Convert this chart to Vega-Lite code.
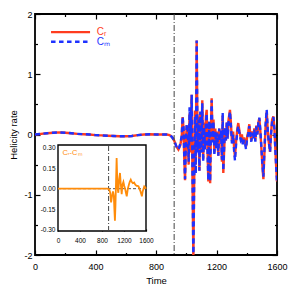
{
  "$schema": "https://vega.github.io/schema/vega-lite/v6.json",
  "width": 242,
  "height": 241,
  "autosize": {"type": "none"},
  "padding": {"left": 35, "top": 14, "right": 14, "bottom": 36},
  "background": "white",
  "config": {
    "view": {"stroke": "#000", "strokeWidth": 1.8},
    "font": "Liberation Sans",
    "axis": {
      "grid": false, "domain": false, "tickColor": "#000", "tickWidth": 1.2,
      "labelColor": "#000", "labelFontSize": 9, "labelFont": "Liberation Sans",
      "titleFont": "Liberation Sans", "titleFontWeight": "normal", "titleFontSize": 9.5, "titleColor": "#000",
      "labelFlush": false, "labelOverlap": false, "labelBound": false
    }
  },
  "datasets": {
    "main": [
      {"t": 0, "cr": 0.0, "cm": 0.0}, {"t": 40, "cr": 0.01, "cm": 0.01}, {"t": 80, "cr": 0.02, "cm": 0.02},
      {"t": 120, "cr": 0.03, "cm": 0.03}, {"t": 160, "cr": 0.035, "cm": 0.035}, {"t": 200, "cr": 0.03, "cm": 0.03},
      {"t": 240, "cr": 0.02, "cm": 0.02}, {"t": 280, "cr": 0.01, "cm": 0.01}, {"t": 320, "cr": 0.005, "cm": 0.005},
      {"t": 360, "cr": 0.0, "cm": 0.0}, {"t": 400, "cr": -0.01, "cm": -0.01}, {"t": 440, "cr": -0.015, "cm": -0.015},
      {"t": 480, "cr": -0.02, "cm": -0.02}, {"t": 520, "cr": -0.025, "cm": -0.025}, {"t": 560, "cr": -0.03, "cm": -0.03},
      {"t": 600, "cr": -0.03, "cm": -0.03}, {"t": 640, "cr": -0.025, "cm": -0.025}, {"t": 680, "cr": -0.01, "cm": -0.01},
      {"t": 720, "cr": 0.0, "cm": 0.0}, {"t": 760, "cr": 0.005, "cm": 0.005}, {"t": 800, "cr": 0.0, "cm": 0.0},
      {"t": 840, "cr": 0.0, "cm": 0.0}, {"t": 870, "cr": 0.0, "cm": 0.0}, {"t": 890, "cr": -0.01, "cm": -0.01},
      {"t": 905, "cr": -0.04, "cm": -0.04}, {"t": 920, "cr": -0.1, "cm": -0.1}, {"t": 935, "cr": -0.2, "cm": -0.2},
      {"t": 948, "cr": -0.25, "cm": -0.25}, {"t": 960, "cr": -0.18, "cm": -0.16}, {"t": 970, "cr": -0.05, "cm": -0.02},
      {"t": 976, "cr": 0.29, "cm": 0.3}, {"t": 982, "cr": 0.1, "cm": 0.12}, {"t": 987, "cr": -0.4, "cm": -0.38},
      {"t": 992, "cr": -0.76, "cm": -0.74}, {"t": 997, "cr": -0.2, "cm": -0.18}, {"t": 1003, "cr": 0.15, "cm": 0.17},
      {"t": 1010, "cr": 0.05, "cm": 0.07}, {"t": 1016, "cr": -0.5, "cm": -0.45}, {"t": 1022, "cr": 0.35, "cm": 0.45},
      {"t": 1028, "cr": -0.3, "cm": -0.12}, {"t": 1036, "cr": 0.66, "cm": 0.66}, {"t": 1042, "cr": -0.9, "cm": -0.8},
      {"t": 1047, "cr": -2.05, "cm": -2.05}, {"t": 1053, "cr": -0.6, "cm": -0.65}, {"t": 1058, "cr": 0.4, "cm": 0.3},
      {"t": 1063, "cr": -0.5, "cm": -0.65}, {"t": 1069, "cr": 1.56, "cm": 1.56}, {"t": 1075, "cr": -0.2, "cm": -0.3},
      {"t": 1081, "cr": 0.3, "cm": 0.25}, {"t": 1087, "cr": -0.6, "cm": -0.6}, {"t": 1093, "cr": 0.35, "cm": 0.38},
      {"t": 1100, "cr": -0.3, "cm": -0.3}, {"t": 1106, "cr": 0.57, "cm": 0.52}, {"t": 1112, "cr": -0.4, "cm": -0.45},
      {"t": 1118, "cr": 0.2, "cm": 0.12}, {"t": 1124, "cr": -0.15, "cm": -0.25}, {"t": 1130, "cr": 0.3, "cm": 0.2},
      {"t": 1135, "cr": 0.41, "cm": 0.35}, {"t": 1140, "cr": -0.2, "cm": -0.22}, {"t": 1146, "cr": -0.78, "cm": -0.76},
      {"t": 1152, "cr": 0.2, "cm": 0.22}, {"t": 1158, "cr": -0.81, "cm": -0.78}, {"t": 1163, "cr": 0.1, "cm": 0.08},
      {"t": 1168, "cr": 0.6, "cm": 0.57}, {"t": 1174, "cr": -0.1, "cm": -0.13}, {"t": 1180, "cr": 0.25, "cm": 0.22},
      {"t": 1186, "cr": -0.3, "cm": -0.35}, {"t": 1192, "cr": 0.1, "cm": 0.05}, {"t": 1198, "cr": -0.2, "cm": -0.23},
      {"t": 1205, "cr": 0.05, "cm": 0.03}, {"t": 1212, "cr": -0.35, "cm": -0.35}, {"t": 1218, "cr": 0.1, "cm": 0.1},
      {"t": 1224, "cr": -0.1, "cm": -0.1}, {"t": 1230, "cr": 0.05, "cm": 0.07}, {"t": 1236, "cr": -0.45, "cm": -0.42},
      {"t": 1241, "cr": 0.32, "cm": 0.36}, {"t": 1245, "cr": -0.64, "cm": -0.6}, {"t": 1250, "cr": -0.3, "cm": -0.25},
      {"t": 1256, "cr": 0.1, "cm": 0.12}, {"t": 1262, "cr": -0.1, "cm": -0.1}, {"t": 1268, "cr": 0.2, "cm": 0.2},
      {"t": 1274, "cr": -0.05, "cm": -0.07}, {"t": 1280, "cr": 0.25, "cm": 0.22}, {"t": 1289, "cr": 0.41, "cm": 0.38},
      {"t": 1295, "cr": 0.2, "cm": 0.16}, {"t": 1302, "cr": -0.1, "cm": -0.15}, {"t": 1310, "cr": 0.05, "cm": 0.0},
      {"t": 1316, "cr": -0.2, "cm": -0.26}, {"t": 1322, "cr": -0.37, "cm": -0.43}, {"t": 1330, "cr": -0.1, "cm": -0.15},
      {"t": 1338, "cr": 0.1, "cm": 0.05}, {"t": 1344, "cr": 0.19, "cm": 0.14}, {"t": 1352, "cr": 0.05, "cm": 0.01},
      {"t": 1360, "cr": -0.05, "cm": -0.09}, {"t": 1368, "cr": 0.0, "cm": -0.04}, {"t": 1375, "cr": -0.15, "cm": -0.19},
      {"t": 1382, "cr": -0.05, "cm": -0.09}, {"t": 1388, "cr": -0.1, "cm": -0.14}, {"t": 1395, "cr": -0.2, "cm": -0.24},
      {"t": 1402, "cr": -0.05, "cm": -0.08}, {"t": 1410, "cr": 0.05, "cm": 0.02}, {"t": 1417, "cr": 0.17, "cm": 0.14},
      {"t": 1424, "cr": 0.0, "cm": -0.02}, {"t": 1430, "cr": -0.1, "cm": -0.12}, {"t": 1437, "cr": 0.05, "cm": 0.03},
      {"t": 1444, "cr": -0.05, "cm": -0.07}, {"t": 1450, "cr": 0.1, "cm": 0.08}, {"t": 1457, "cr": -0.1, "cm": -0.12},
      {"t": 1463, "cr": 0.15, "cm": 0.13}, {"t": 1470, "cr": 0.0, "cm": 0.0}, {"t": 1477, "cr": 0.2, "cm": 0.2},
      {"t": 1483, "cr": 0.27, "cm": 0.28}, {"t": 1490, "cr": 0.05, "cm": 0.07}, {"t": 1496, "cr": -0.2, "cm": -0.18},
      {"t": 1503, "cr": -0.5, "cm": -0.47}, {"t": 1510, "cr": -0.74, "cm": -0.7}, {"t": 1517, "cr": -0.3, "cm": -0.25},
      {"t": 1524, "cr": 0.1, "cm": 0.15}, {"t": 1532, "cr": 0.38, "cm": 0.41}, {"t": 1538, "cr": 0.1, "cm": 0.11},
      {"t": 1544, "cr": -0.1, "cm": -0.09}, {"t": 1550, "cr": -0.2, "cm": -0.2}, {"t": 1554, "cr": -0.29, "cm": -0.29},
      {"t": 1560, "cr": 0.0, "cm": -0.01}, {"t": 1568, "cr": 0.25, "cm": 0.23}, {"t": 1576, "cr": 0.3, "cm": 0.29},
      {"t": 1583, "cr": 0.1, "cm": 0.09}, {"t": 1590, "cr": -0.3, "cm": -0.31}, {"t": 1596, "cr": -0.6, "cm": -0.6},
      {"t": 1600, "cr": -0.78, "cm": -0.78}
    ],
    "diff": [
      {"t": 0, "d": 0}, {"t": 900, "d": 0}, {"t": 930, "d": -0.005}, {"t": 950, "d": -0.03}, {"t": 965, "d": -0.1},
      {"t": 980, "d": -0.06}, {"t": 1000, "d": -0.02}, {"t": 1015, "d": -0.05}, {"t": 1025, "d": -0.15},
      {"t": 1035, "d": -0.235}, {"t": 1045, "d": -0.12}, {"t": 1055, "d": 0.05}, {"t": 1066, "d": 0.225},
      {"t": 1075, "d": 0.1}, {"t": 1085, "d": 0.0}, {"t": 1097, "d": -0.03}, {"t": 1110, "d": 0.06},
      {"t": 1127, "d": 0.115}, {"t": 1140, "d": 0.04}, {"t": 1158, "d": -0.04}, {"t": 1172, "d": 0.03},
      {"t": 1189, "d": 0.05}, {"t": 1205, "d": 0.02}, {"t": 1220, "d": 0.0}, {"t": 1235, "d": -0.03},
      {"t": 1250, "d": -0.056}, {"t": 1270, "d": 0.0}, {"t": 1290, "d": 0.03}, {"t": 1305, "d": 0.05},
      {"t": 1323, "d": 0.066}, {"t": 1340, "d": 0.05}, {"t": 1360, "d": 0.04}, {"t": 1384, "d": 0.045},
      {"t": 1405, "d": 0.03}, {"t": 1430, "d": 0.02}, {"t": 1450, "d": 0.02}, {"t": 1464, "d": 0.017},
      {"t": 1480, "d": 0.0}, {"t": 1500, "d": -0.02}, {"t": 1515, "d": -0.04}, {"t": 1525, "d": -0.056},
      {"t": 1540, "d": -0.02}, {"t": 1555, "d": 0.0}, {"t": 1568, "d": 0.017}, {"t": 1585, "d": 0.01},
      {"t": 1600, "d": 0.0}
    ]
  },
  "layer": [
    {
      "layer": [
        {
          "data": {"name": "main"},
          "mark": {"type": "line", "color": "#ff3c1e", "strokeWidth": 2.4, "clip": true},
          "encoding": {
            "x": {"field": "t", "type": "quantitative", "scale": {"domain": [0, 1600], "nice": false},
              "axis": {"orient": "bottom", "title": "Time", "values": [0, 200, 400, 600, 800, 1000, 1200, 1400, 1600],
                "labelExpr": "datum.value % 400 === 0 ? '' + datum.value : ''",
                "tickSize": {"condition": {"test": "datum.value % 400 === 0", "value": -5}, "value": -2.5},
                "labelPadding": 12, "titlePadding": 2}},
            "y": {"field": "cr", "type": "quantitative", "scale": {"domain": [-2, 2], "nice": false, "zero": false},
              "axis": {"orient": "left", "title": "Helicity rate", "values": [-2, -1.5, -1, -0.5, 0, 0.5, 1, 1.5, 2],
                "labelExpr": "datum.value % 1 === 0 ? '' + datum.value : ''",
                "tickSize": {"condition": {"test": "datum.value % 1 === 0", "value": -5}, "value": -2.5},
                "labelPadding": 8, "titlePadding": 5}}
          }
        },
        {
          "data": {"name": "main"},
          "mark": {"type": "line", "color": "#1e32ff", "strokeWidth": 2.4, "strokeDash": [5, 3.5], "clip": true},
          "encoding": {
            "x": {"field": "t", "type": "quantitative",
              "axis": {"orient": "top", "title": null, "labels": false, "values": [0, 200, 400, 600, 800, 1000, 1200, 1400, 1600],
                "tickSize": {"condition": {"test": "datum.value % 400 === 0", "value": -5}, "value": -2.5}}},
            "y": {"field": "cm", "type": "quantitative",
              "axis": {"orient": "right", "title": null, "labels": false, "values": [-2, -1.5, -1, -0.5, 0, 0.5, 1, 1.5, 2],
                "tickSize": {"condition": {"test": "datum.value % 1 === 0", "value": -5}, "value": -2.5}}}
          }
        },
        {
          "data": {"values": [{}]},
          "mark": {"type": "rule", "color": "#444", "strokeWidth": 1, "strokeDash": [6, 2, 1, 2]},
          "encoding": {"x": {"datum": 920, "type": "quantitative", "axis": null}}
        },
        {
          "data": {"values": [{}]},
          "mark": {"type": "rule", "color": "#ff3c1e", "strokeWidth": 2.4},
          "encoding": {
            "x": {"datum": 106, "type": "quantitative", "axis": null}, "x2": {"datum": 364},
            "y": {"datum": 1.7, "type": "quantitative", "axis": null}
          }
        },
        {
          "data": {"values": [{}]},
          "mark": {"type": "rule", "color": "#1e32ff", "strokeWidth": 2.4, "strokeDash": [4.5, 3.5]},
          "encoding": {
            "x": {"datum": 106, "type": "quantitative", "axis": null}, "x2": {"datum": 364},
            "y": {"datum": 1.54, "type": "quantitative", "axis": null}
          }
        },
        {
          "data": {"values": [{}]},
          "mark": {"type": "text", "text": "Cᵣ", "color": "#ff3c1e", "fontSize": 10, "align": "left", "baseline": "middle"},
          "encoding": {
            "x": {"datum": 408, "type": "quantitative", "axis": null},
            "y": {"datum": 1.7, "type": "quantitative", "axis": null}
          }
        },
        {
          "data": {"values": [{}]},
          "mark": {"type": "text", "text": "Cₘ", "color": "#1e32ff", "fontSize": 10, "align": "left", "baseline": "middle"},
          "encoding": {
            "x": {"datum": 408, "type": "quantitative", "axis": null},
            "y": {"datum": 1.54, "type": "quantitative", "axis": null}
          }
        }
      ],
      "resolve": {"axis": {"x": "independent", "y": "independent"}}
    },
    {
      "layer": [
        {
          "data": {"values": [{}]},
          "mark": {"type": "rect", "fill": "white", "stroke": "#000", "strokeWidth": 1.4},
          "encoding": {
            "x": {"datum": 0, "type": "quantitative", "scale": {"domain": [0, 1600], "range": [23, 111], "nice": false},
              "axis": {"orient": "bottom", "offset": -24, "title": null, "values": [0, 400, 800, 1200, 1600],
                "labelExpr": "'' + datum.value",
                "tickSize": -2, "labelFontSize": 6.5, "labelPadding": 8}},
            "x2": {"datum": 1600},
            "y": {"datum": -0.31, "type": "quantitative", "scale": {"domain": [-0.31, 0.32], "range": [217, 131], "nice": false, "zero": false},
              "axis": {"orient": "left", "offset": -23, "title": null, "values": [-0.3, -0.15, 0, 0.15, 0.3],
                "labelExpr": "replace(format(datum.value, '.2f'), '\u2212', '-')",
                "tickSize": -2, "labelFontSize": 6.5, "labelPadding": 5}},
            "y2": {"datum": 0.32}
          }
        },
        {
          "data": {"values": [{}]},
          "mark": {"type": "rule", "color": "#555", "strokeWidth": 1, "strokeDash": [3, 2]},
          "encoding": {
            "x": {"datum": 0, "type": "quantitative"}, "x2": {"datum": 1600},
            "y": {"datum": 0, "type": "quantitative"}
          }
        },
        {
          "data": {"values": [{}]},
          "mark": {"type": "rule", "color": "#444", "strokeWidth": 1, "strokeDash": [5, 2, 1, 2]},
          "encoding": {
            "x": {"datum": 920, "type": "quantitative"},
            "y": {"datum": -0.31, "type": "quantitative"}, "y2": {"datum": 0.32}
          }
        },
        {
          "data": {"name": "diff"},
          "mark": {"type": "line", "color": "#ff8c0a", "strokeWidth": 1.8},
          "encoding": {
            "x": {"field": "t", "type": "quantitative"},
            "y": {"field": "d", "type": "quantitative"}
          }
        },
        {
          "data": {"values": [{}]},
          "mark": {"type": "text", "text": "Cᵣ-Cₘ", "color": "#ff8c0a", "fontSize": 7.5, "align": "left", "baseline": "middle"},
          "encoding": {
            "x": {"datum": 80, "type": "quantitative"},
            "y": {"datum": 0.26, "type": "quantitative"}
          }
        }
      ]
    }
  ],
  "resolve": {"scale": {"x": "independent", "y": "independent"}, "axis": {"x": "independent", "y": "independent"}}
}
